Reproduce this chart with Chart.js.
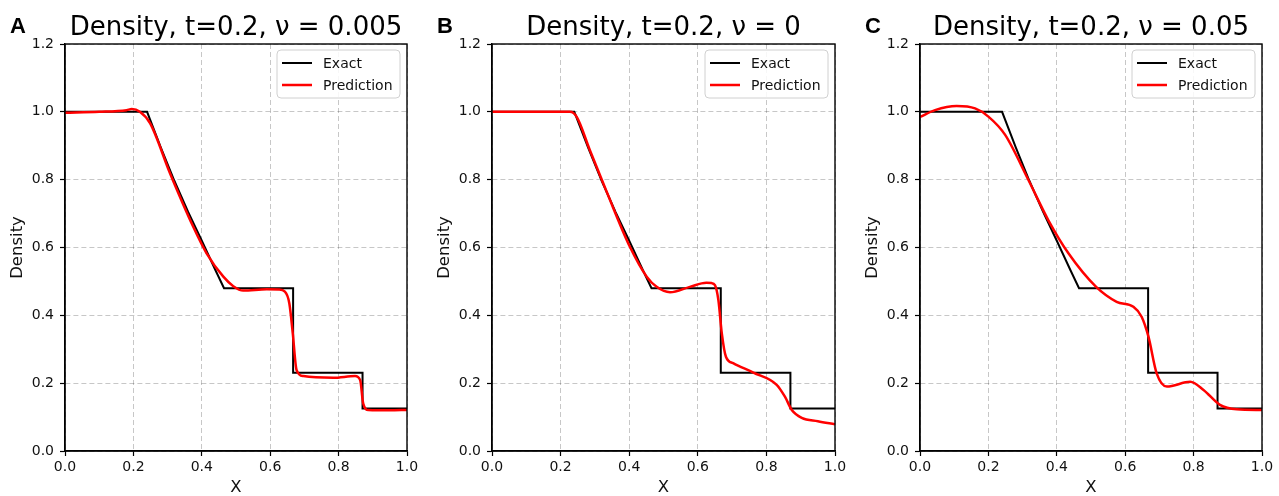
<!DOCTYPE html>
<html>
<head>
<meta charset="utf-8">
<script src="https://cdn.jsdelivr.net/npm/chart.js@4"></script>
<style>
  body { margin: 0; background: #fff; }
  #wrap { position: relative; width: 1279px; height: 496px; }
  canvas { position: absolute; top: 0; }
</style>
</head>
<body>
<div id="wrap">
  <canvas id="g1" width="427" height="496" style="left:0px"></canvas>
  <canvas id="g2" width="428" height="496" style="left:427px"></canvas>
  <canvas id="g3" width="424" height="496" style="left:855px"></canvas>
</div>
<script>
// ticks
const xTicks = [0, 0.2, 0.4, 0.6, 0.8, 1.0];
const yTicks = [0, 0.2, 0.4, 0.6, 0.8, 1.0, 1.2];

// exact solution (same in all panels)
const exactX = [0, 0.24, 0.28, 0.32, 0.36, 0.40, 0.44, 0.465, 0.667, 0.667, 0.87, 0.87, 1.0];
const exactY = [1.0, 1.0, 0.895, 0.796, 0.705, 0.620, 0.533, 0.48, 0.48, 0.231, 0.231, 0.125, 0.125];

// prediction, panel A (nu = 0.005)
const predAX = [0, 0.1, 0.18, 0.195, 0.219, 0.249, 0.307, 0.375, 0.414, 0.463, 0.492, 0.521, 0.59, 0.625, 0.643, 0.656, 0.666, 0.677, 0.697, 0.785, 0.848, 0.863, 0.872, 0.887, 0.95, 1.0];
const predAY = [0.997, 1.0, 1.005, 1.008, 1.0, 0.966, 0.819, 0.661, 0.583, 0.514, 0.486, 0.473, 0.477, 0.476, 0.470, 0.435, 0.347, 0.239, 0.221, 0.216, 0.221, 0.209, 0.14, 0.121, 0.12, 0.121];

// prediction, panel B (nu = 0)
const predBX = [0, 0.1, 0.2, 0.227, 0.247, 0.286, 0.334, 0.402, 0.451, 0.480, 0.519, 0.577, 0.625, 0.640, 0.650, 0.660, 0.670, 0.682, 0.703, 0.762, 0.830, 0.854, 0.874, 0.903, 0.95, 1.0];
const predBY = [1.0, 1.0, 1.0, 1.0, 0.985, 0.885, 0.765, 0.602, 0.514, 0.484, 0.468, 0.484, 0.496, 0.495, 0.489, 0.445, 0.347, 0.278, 0.259, 0.231, 0.195, 0.160, 0.121, 0.098, 0.088, 0.079];

// prediction, panel C (nu = 0.05)
const predCX = [0, 0.044, 0.107, 0.161, 0.2, 0.249, 0.317, 0.375, 0.434, 0.515, 0.575, 0.624, 0.648, 0.668, 0.692, 0.722, 0.79, 0.829, 0.877, 0.926, 1.0];
const predCY = [0.985, 1.005, 1.017, 1.010, 0.986, 0.932, 0.799, 0.681, 0.583, 0.484, 0.440, 0.425, 0.396, 0.337, 0.229, 0.190, 0.204, 0.180, 0.136, 0.123, 0.121];

const titles = ['Density, t=0.2, \u03bd = 0.005', 'Density, t=0.2, \u03bd = 0', 'Density, t=0.2, \u03bd = 0.05'];
const letters = ['A', 'B', 'C'];

Chart.defaults.font.family = '"DejaVu Sans", sans-serif';
Chart.defaults.color = '#111';

function puntos(xs, ys) {
    return xs.map((x, i) => ({ x: x, y: ys[i] }));
}

// frame, title, panel letter and legend
const decor = {
    id: 'decor',
    afterDraw(chart) {
        const ctx = chart.ctx;
        const a = chart.chartArea;
        const o = chart.options.plugins.decor;
        ctx.save();
        ctx.strokeStyle = '#000';
        ctx.lineWidth = 1.4;
        ctx.strokeRect(a.left, a.top, a.right - a.left, a.bottom - a.top);

        ctx.fillStyle = '#000';
        ctx.font = '26px "DejaVu Sans"';
        ctx.textAlign = 'center';
        ctx.textBaseline = 'alphabetic';
        ctx.fillText(o.title, (a.left + a.right) / 2, a.top - 9);

        ctx.font = 'bold 22px "Liberation Sans"';
        ctx.textAlign = 'left';
        ctx.fillText(o.letter, a.left - 55, a.top - 11);

        // legend box
        const bx = a.right - 130, by = a.top + 6, bw = 123, bh = 48;
        ctx.beginPath();
        ctx.roundRect(bx, by, bw, bh, 4);
        ctx.fillStyle = 'rgba(255,255,255,0.85)';
        ctx.fill();
        ctx.strokeStyle = '#d0d0d0';
        ctx.lineWidth = 1;
        ctx.stroke();
        ctx.font = '14px "DejaVu Sans"';
        ctx.textBaseline = 'middle';
        chart.data.datasets.forEach((ds, i) => {
            const y = a.top + 19 + i * 22;
            ctx.strokeStyle = ds.borderColor;
            ctx.lineWidth = ds.borderWidth;
            ctx.beginPath();
            ctx.moveTo(a.right - 125, y);
            ctx.lineTo(a.right - 95, y);
            ctx.stroke();
            ctx.fillStyle = '#111';
            ctx.fillText(ds.label, a.right - 84, y + 1);
        });
        ctx.restore();
    }
};

function escala(valores, min, max, titulo, esX) {
    return {
        type: 'linear',
        min: min,
        max: max,
        afterBuildTicks: s => { s.ticks = valores.map(v => ({ value: v })); },
        afterFit: s => { if (esX) { s.height = 45; } else { s.width = 65; } },
        ticks: {
            callback: v => Number(v).toFixed(1),
            font: { size: 14 },
            color: '#111',
            padding: esX ? 3 : 6,
            maxRotation: 0,
            autoSkip: false
        },
        grid: {
            color: 'rgba(0,0,0,0.22)',
            lineWidth: 1,
            tickColor: '#000',
            tickLength: 5,
            tickWidth: 1.2,
            tickBorderDash: []
        },
        border: { color: '#000', width: 1.4, dash: [5, 3] },
        title: {
            display: true,
            text: titulo,
            font: { size: 16.5 },
            color: '#111',
            padding: esX ? { top: 0, bottom: -2 } : { top: 8, bottom: 0 }
        }
    };
}

function dibujarPanel(id, n, predX, predY, padRight) {
    const ctx = document.getElementById(id).getContext('2d');
    new Chart(ctx, {
        type: 'scatter',
        data: {
            datasets: [
                {
                    label: 'Exact',
                    data: puntos(exactX, exactY),
                    showLine: true,
                    borderColor: '#000000',
                    borderWidth: 2,
                    pointRadius: 0,
                    tension: 0,
                    order: 1
                },
                {
                    label: 'Prediction',
                    data: puntos(predX, predY),
                    showLine: true,
                    borderColor: '#ff0000',
                    borderWidth: 2.5,
                    pointRadius: 0,
                    cubicInterpolationMode: 'monotone',
                    order: 0
                }
            ]
        },
        options: {
            responsive: false,
            animation: false,
            devicePixelRatio: 1,
            layout: { padding: { top: 44, right: padRight, bottom: 0, left: 0 } },
            plugins: {
                legend: { display: false },
                tooltip: { enabled: false },
                title: { display: false },
                decor: { title: titles[n], letter: letters[n] }
            },
            scales: {
                x: escala(xTicks, 0, 1, 'X', true),
                y: escala(yTicks, 0, 1.2, 'Density', false)
            }
        },
        plugins: [decor]
    });
}

dibujarPanel('g1', 0, predAX, predAY, 20);
dibujarPanel('g2', 1, predBX, predBY, 20);
dibujarPanel('g3', 2, predCX, predCY, 17);
</script>
</body>
</html>
